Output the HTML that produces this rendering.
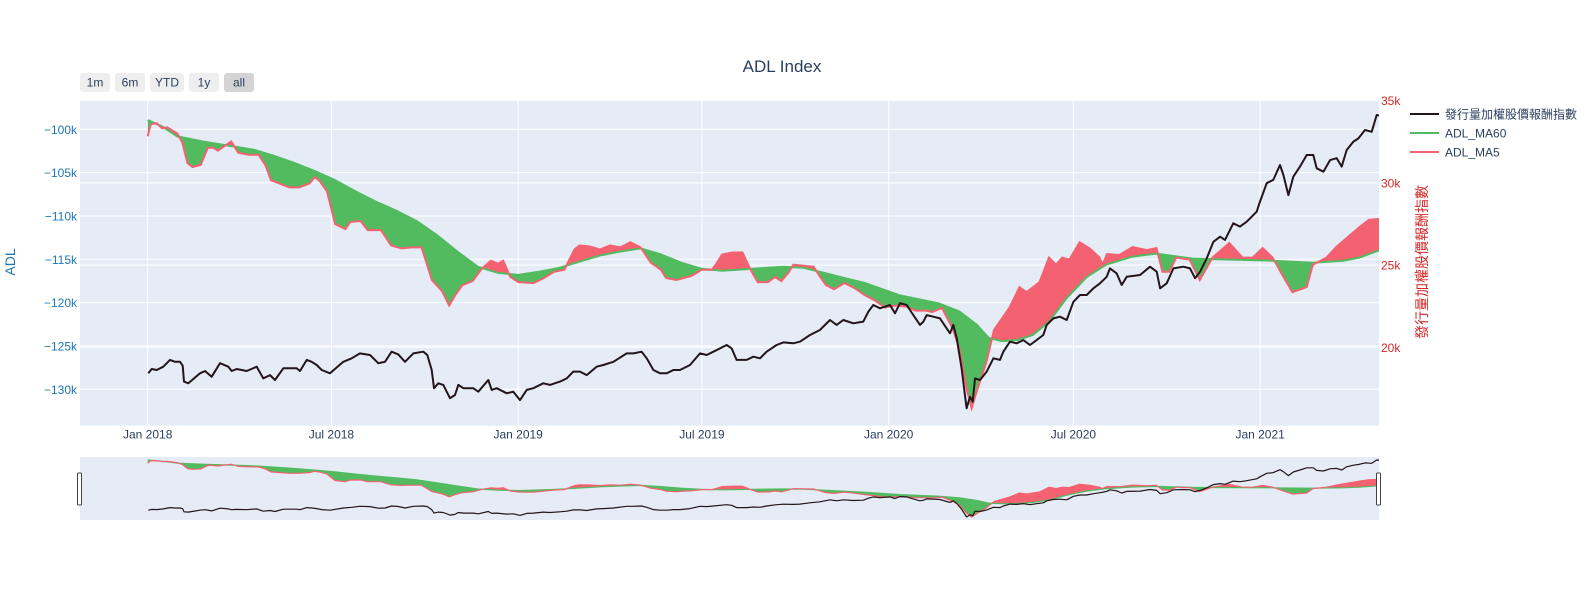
<!DOCTYPE html>
<html><head><meta charset="utf-8"><style>
body{margin:0;background:#fff;}
svg text{font-family:"Liberation Sans","Noto Sans CJK TC",sans-serif;}
</style></head><body>
<svg id="chart" width="1595" height="600" xmlns="http://www.w3.org/2000/svg"></svg>
<script>
// ---- data (days since 2018-01-01) ----
const ma60Days=[0,14,29.1,54.2,79.3,104.4,124.4,144.5,164.6,184.6,204.7,224.8,244.8,264.9,285,305,325.1,345.2,365.2,385.3,405.4,425.4,445.5,465.6,485.6,505.7,525.8,545.8,565.9,596,626.1,646.2,666.3,686.3,706.4,726.5,740.5,779.6,799.7,816.8,828.8,841.9,857,872,888,905.1,925.1,944.2,970.3,993.4,1029.5,1068.6,1107.8,1147.9,1178,1194,1213.1];
const ma60Vals=[-98940,-99650,-100820,-101410,-101880,-102350,-103060,-103880,-104820,-105880,-107170,-108340,-109400,-110580,-112220,-114100,-115860,-116570,-116800,-116450,-115980,-115280,-114570,-114100,-113750,-114450,-115390,-116100,-116330,-116100,-115860,-115980,-116570,-117160,-117740,-118570,-119150,-120090,-121030,-122560,-124090,-124440,-124320,-123740,-122210,-119510,-117040,-115630,-114690,-114340,-114920,-115040,-115160,-115390,-115160,-114800,-113980];
const ma5Days=[0,3,9,14,19.1,24.1,29.1,34.1,39.1,44.1,52.2,59.2,64.2,69.2,76.3,82.3,89.3,99.3,109.4,116.4,121.4,129.4,139.5,149.5,159.5,164.6,169.6,176.6,184.6,194.7,199.7,209.7,216.7,229.8,239.8,249.8,259.9,269.9,280,290,297,303,310,320.1,329.1,338.1,345.2,350.2,357.2,365.2,380.3,390.3,400.4,410.4,420.4,425.4,435.5,445.5,455.5,465.6,475.6,485.6,495.7,505.7,510.7,520.8,535.8,545.8,555.9,560.9,565.9,576,586,594,601,611.1,618.1,624.1,631.1,636.2,646.2,656.2,661.2,668.3,676.3,686.3,696.4,706.4,716.4,726.5,736.5,746.5,756.6,766.6,773.1,782.6,792.7,799.7,806.7,811.7,817.8,826.3,833.8,848.9,858.9,865.9,878.6,888,895,901,908.1,918.1,928.1,937.7,940.7,945.2,957.2,970.3,984.3,993.8,999.8,1006.4,1013.4,1026.5,1036.5,1049.1,1065.6,1078.6,1088.7,1098.4,1108.3,1117.8,1127.8,1141.9,1147.9,1161.4,1171,1181,1194,1203.1,1213.1];
const ma5Vals=[-100820,-99410,-99300,-99880,-99770,-100120,-100470,-101530,-103880,-104350,-104110,-102120,-102120,-102470,-101880,-101410,-102700,-102940,-102940,-104230,-105880,-106230,-106700,-106700,-106230,-105520,-105990,-107170,-110930,-111520,-110690,-110580,-111630,-111630,-113400,-113750,-113630,-113630,-117390,-118680,-120330,-119150,-117980,-117510,-116100,-115160,-115510,-115160,-117040,-117630,-117740,-117160,-116450,-116220,-113870,-113400,-113520,-113870,-113400,-113630,-113040,-113630,-115390,-116220,-117160,-117390,-116920,-116220,-116220,-115390,-114450,-114220,-114220,-116220,-117630,-117630,-117040,-117510,-116570,-115630,-115750,-115860,-116800,-117980,-118450,-117740,-118330,-119150,-119740,-120560,-120330,-120450,-120920,-120920,-121090,-120620,-122910,-125260,-129850,-132200,-129850,-126860,-123150,-120620,-118210,-118800,-117630,-114810,-115630,-114810,-115040,-113040,-113750,-114810,-115630,-114390,-114510,-113580,-113940,-113700,-116450,-116450,-114810,-115040,-117390,-114810,-113120,-114810,-114810,-113700,-114810,-116800,-118800,-118210,-115630,-114810,-113580,-112570,-111280,-110460,-110340];
const idxDays=[0.6,3.9,8.9,15.4,22,26.9,31.8,34.5,35.8,40,51.5,56.5,63.1,71.2,79.4,82.8,87.7,97.5,107.4,113.9,120.5,125.4,133.6,146.8,150,156.7,161.6,166.5,171.4,179.6,192.7,201,209.1,219,227.2,233.8,240.3,246.9,253.5,261.7,271.5,275.5,279.8,282.1,286.3,291.2,297.8,302.8,306,311,320.8,325.7,335.6,338.9,343.8,353.7,360.2,366.8,373.4,380,389.8,396.4,406.2,412.8,419.3,425.9,432.5,442.3,448.9,458.8,471.9,478.5,486.6,491.6,498.2,504.7,511.3,517.9,524.4,534.3,544.1,550.7,557.3,570.4,575.3,580.2,590.1,596.7,603.2,609.8,619.6,626.2,636.1,642.6,652.5,662.3,672.2,678.7,685.3,695.2,705,710,714.9,721.5,731.3,736.3,741.2,747.8,754.3,760.9,764.2,767.5,774,780.6,787.2,790.4,793.7,797,801.9,806.8,810.1,812.8,815.1,820,826.6,833.2,839.7,843,849.6,856.1,862.7,869.3,875.8,882.4,885.7,892.3,898.8,905.4,912,918.5,925.1,931.7,938.2,944.8,948.1,954.6,959.6,964.5,977.7,987.5,994.1,997.4,1003.9,1010.5,1020.4,1026.9,1031.9,1036.8,1043.3,1049.9,1056.5,1061.4,1069.6,1076.2,1082.8,1092.6,1095.9,1102.5,1109,1115.6,1118.9,1123.8,1128.7,1135.3,1141.9,1148.4,1151.7,1158.3,1164.9,1171.4,1176.4,1181.3,1187.9,1192.8,1199.3,1205.9,1210.8,1213.1];
const idxVals=[18418,18680,18620,18820,19230,19120,19120,18880,17910,17810,18420,18560,18210,19030,18820,18560,18680,18560,18820,18110,18310,18010,18720,18720,18560,19230,19120,18920,18620,18420,19120,19330,19630,19530,19030,19120,19730,19570,19120,19630,19730,19530,18620,17510,17810,17710,16900,17100,17710,17510,17510,17300,18010,17410,17510,17200,17300,16790,17410,17510,17810,17710,17910,18110,18520,18520,18310,18820,18920,19120,19630,19630,19730,19330,18620,18420,18420,18620,18620,18920,19630,19530,19730,20140,19940,19230,19230,19430,19330,19730,20140,20300,20240,20340,20750,21050,21660,21360,21660,21460,21560,22170,22570,22370,22570,22070,22680,22570,21960,21360,21560,21960,21860,21760,21150,20850,21360,20550,18720,16290,16990,16690,18110,18010,18520,19330,19230,19730,20340,20240,20440,20140,20440,20750,21360,21760,21860,21660,22770,23180,23180,23590,23890,24290,24800,24500,23790,24290,24400,24900,24600,23590,23890,24800,24900,24800,24200,24600,25410,26420,26730,26530,27540,27340,27640,28250,28860,29980,30180,31090,30480,29260,30380,30990,31700,31700,30890,30680,31390,31500,30990,32000,32510,32710,33220,33110,34130,34100];
const xTickDays=[0,181,365,546,730,912,1096];
const xTickLabels=["Jan 2018","Jul 2018","Jan 2019","Jul 2019","Jan 2020","Jul 2020","Jan 2021"];
const yLeftTicks=[-100000,-105000,-110000,-115000,-120000,-125000,-130000];
const yLeftLabels=["−100k","−105k","−110k","−115k","−120k","−125k","−130k"];
const yRightTicks=[35000,30000,25000,20000];
const yRightLabels=["35k","30k","25k","20k"];

// ---- layout ----
const NS="http://www.w3.org/2000/svg";
const svg=document.getElementById('chart');
const P={l:80,r:1379,t:100,b:425.7};
const S={t:457,b:520};
const xMin=-66.7,xMax=1213.1;
const yLmin=-134205,yLmax=-96620,yRmin=15230,yRmax=35043;
const xs=d=>P.l+(d-xMin)/(xMax-xMin)*(P.r-P.l);
const yl=v=>P.b-(v-yLmin)/(yLmax-yLmin)*(P.b-P.t);
const yr=v=>P.b-(v-yRmin)/(yRmax-yRmin)*(P.b-P.t);
const GREEN="#52bb60",RED="#f46272",BLACK="#231519";
function el(tag,attrs,parent){const e=document.createElementNS(NS,tag);for(const k in attrs)e.setAttribute(k,attrs[k]);(parent||svg).appendChild(e);return e;}
function pts(ds,vs,fx,fy){return ds.map((d,i)=>fx(d).toFixed(1)+","+fy(vs[i]).toFixed(1));}

const defs=el('defs',{});
const cp=el('clipPath',{id:'plotclip'},defs);el('rect',{x:P.l,y:P.t,width:P.r-P.l,height:P.b-P.t},cp);
const cs=el('clipPath',{id:'sliderclip'},defs);el('rect',{x:P.l,y:S.t,width:P.r-P.l,height:S.b-S.t},cs);

const bg=el('rect',{x:P.l,y:P.t,width:P.r-P.l,height:P.b-P.t,fill:'#e5ecf6'});



xTickDays.forEach((d,i)=>{
  const g=el('line',{x1:xs(d),x2:xs(d),y1:P.t,y2:P.b,stroke:'#fff','stroke-width':1});
  
  
  const t=el('text',{x:xs(d),y:P.b+13,'text-anchor':'middle','font-size':12,fill:'#2a3f5f'});
  t.textContent=xTickLabels[i];
  
  
});
yLeftTicks.forEach((v,i)=>{
  const g=el('line',{x1:P.l,x2:P.r,y1:yl(v),y2:yl(v),stroke:'#fff','stroke-width':1});
  
  
  const t=el('text',{x:77,y:yl(v)+4.5,'text-anchor':'end','font-size':12,fill:'#1f77b4'});
  t.textContent=yLeftLabels[i];
  
  
});
yRightTicks.forEach((v,i)=>{
  const g=el('line',{x1:P.l,x2:P.r,y1:yr(v),y2:yr(v),stroke:'#fff','stroke-width':1});
  
  
  const t=el('text',{x:P.r+2,y:yr(v)+4.5,'font-size':12,fill:'#d62728'});
  t.textContent=yRightLabels[i];
  
  
});

function drawSeries(parent,fx,fyL,fyR,top,bot,idp,wScale){
  const m5=pts(ma5Days,ma5Vals,fx,fyL), m60=pts(ma60Days,ma60Vals,fx,fyL);
  const x0=fx(ma60Days[0]).toFixed(1),x1=fx(ma60Days[ma60Days.length-1]).toFixed(1);
  const id1='ab'+idp,id2='be'+idp;
  const c1=el('clipPath',{id:id1},defs);el('polygon',{points:m60.join(' ')+` ${x1},${top-50} ${x0},${top-50}`},c1);
  const c2=el('clipPath',{id:id2},defs);el('polygon',{points:m60.join(' ')+` ${x1},${bot+50} ${x0},${bot+50}`},c2);
  const between=m5.join(' ')+' '+m60.slice().reverse().join(' ');
  const fr=el('polygon',{points:between,fill:RED,'clip-path':`url(#${id1})`},parent);
  
  
  const fg=el('polygon',{points:between,fill:GREEN,'clip-path':`url(#${id2})`},parent);
  
  
  const l60=el('polyline',{points:m60.join(' '),fill:'none',stroke:GREEN,'stroke-width':2*wScale},parent);
  
  
  const l5=el('polyline',{points:m5.join(' '),fill:'none',stroke:RED,'stroke-width':2*wScale},parent);
  
  
  const li=el('polyline',{points:pts(idxDays,idxVals,fx,fyR).join(' '),fill:'none',stroke:BLACK,'stroke-width':2*wScale,'stroke-linejoin':'round'},parent);
  
  
}
const main=el('g',{'clip-path':'url(#plotclip)'});


drawSeries(main,xs,yl,yr,P.t,P.b,'m',1);

const sbg=el('rect',{x:P.l,y:S.t,width:P.r-P.l,height:S.b-S.t,fill:'#e5ecf6'});


const sMinL=Math.min(...ma5Vals,...ma60Vals),sMaxL=Math.max(...ma5Vals,...ma60Vals);
const sMinR=Math.min(...idxVals),sMaxR=Math.max(...idxVals);
const sxl=v=>S.b-3-(v-sMinL)/(sMaxL-sMinL)*(S.b-S.t-6);
const sxr=v=>S.b-3-(v-sMinR)/(sMaxR-sMinR)*(S.b-S.t-6);
const sg=el('g',{'clip-path':'url(#sliderclip)'});


drawSeries(sg,xs,sxl,sxr,S.t,S.b,'s',0.6);
[P.l-2,P.r-2].forEach((x,i)=>{
  const h=el('rect',{x:x-0.5,y:473,width:4,height:32,fill:'#fff',stroke:'#444','stroke-width':1,rx:1});
  
  
});
</script>
<svg width="1595" height="600" style="position:absolute;left:0;top:0" xmlns="http://www.w3.org/2000/svg">
  <text x="782" y="72" text-anchor="middle" font-size="17" fill="#2a3f5f" font-family="Liberation Sans, sans-serif">ADL Index</text>
  <text transform="translate(15,262) rotate(-90)" text-anchor="middle" font-size="14" fill="#1f77b4" font-family="Liberation Sans, sans-serif">ADL</text>
  <text transform="translate(1427,262) rotate(-90)" text-anchor="middle" font-size="14" fill="#d62728" font-family="Liberation Sans, Noto Sans CJK TC, sans-serif">發行量加權股價報酬指數</text>
  <g font-size="12" fill="#2a3f5f" font-family="Liberation Sans, sans-serif">
    <rect x="80" y="73" width="30" height="19" rx="3" fill="#eeeeee"/>
    <text x="95" y="86.5" text-anchor="middle">1m</text>
    <rect x="115" y="73" width="30" height="19" rx="3" fill="#eeeeee"/>
    <text x="130" y="86.5" text-anchor="middle">6m</text>
    <rect x="150" y="73" width="34" height="19" rx="3" fill="#eeeeee"/>
    <text x="167" y="86.5" text-anchor="middle">YTD</text>
    <rect x="189" y="73" width="30" height="19" rx="3" fill="#eeeeee"/>
    <text x="204" y="86.5" text-anchor="middle">1y</text>
    <rect x="224" y="73" width="30" height="19" rx="3" fill="#d4d4d4"/>
    <text x="239" y="86.5" text-anchor="middle">all</text>
  </g>
  <g font-size="12" fill="#2a3f5f" font-family="Liberation Sans, Noto Sans CJK TC, sans-serif">
    <line x1="1410" x2="1439" y1="114" y2="114" stroke="#231519" stroke-width="2"/>
    <text x="1445" y="118.5">發行量加權股價報酬指數</text>
    <line x1="1410" x2="1439" y1="133" y2="133" stroke="#52bb60" stroke-width="2"/>
    <text x="1445" y="137.5">ADL_MA60</text>
    <line x1="1410" x2="1439" y1="152" y2="152" stroke="#f46272" stroke-width="2"/>
    <text x="1445" y="156.5">ADL_MA5</text>
  </g>
</svg>
</body></html>
